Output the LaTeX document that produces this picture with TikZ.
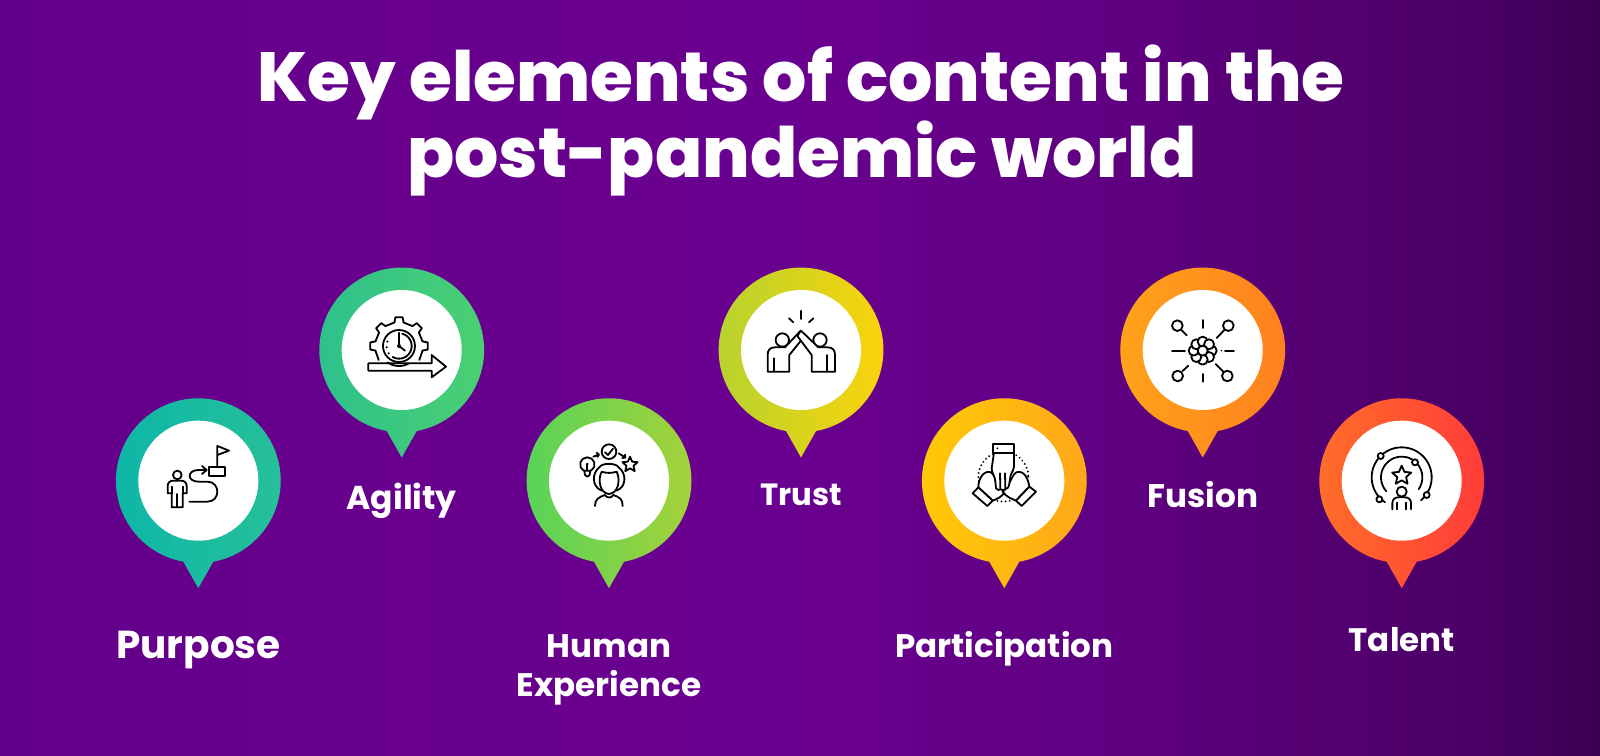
\documentclass[tikz,border=0pt]{standalone}
\usepackage{fontspec}
\setmainfont{Poppins}
\newfontfamily\titlefont{Poppins ExtraBold}
\definecolor{bgA}{HTML}{63008A}
\definecolor{bgB}{HTML}{67008D}
\definecolor{bgC}{HTML}{6A008F}
\definecolor{bgD}{HTML}{600082}
\definecolor{bgE}{HTML}{540072}
\definecolor{bgG}{HTML}{4A0066}
\definecolor{bgF}{HTML}{3A0052}
\definecolor{a1}{HTML}{0DB6A8}\definecolor{a2}{HTML}{27C098}
\definecolor{b1}{HTML}{2CC08E}\definecolor{b2}{HTML}{4CD070}
\definecolor{c1}{HTML}{55D35A}\definecolor{c2}{HTML}{A8D238}
\definecolor{d1}{HTML}{B5D32F}\definecolor{d2}{HTML}{FDD30A}
\definecolor{e1}{HTML}{FFCB05}\definecolor{e2}{HTML}{FFA61A}
\definecolor{f1}{HTML}{FFA41A}\definecolor{f2}{HTML}{FF7F1E}
\definecolor{g1}{HTML}{FF6F28}\definecolor{g2}{HTML}{FF3A3A}
\pgfdeclarehorizontalshading{bgshade}{100bp}{
  color(0bp)=(bgA); color(25bp)=(bgA); color(34.4bp)=(bgB); color(50bp)=(bgC);
  color(59.4bp)=(bgD); color(65.9bp)=(bgE); color(71.25bp)=(bgG); color(75bp)=(bgF); color(100bp)=(bgF)}
\tikzset{
  disc/.style={circle,fill=white,minimum size=120pt,inner sep=0pt},
  titletext/.style={text=white,font=\fontsize{69.5}{76}\titlefont\selectfont,anchor=base},
  lab/.style={text=white,anchor=base,font=\fontsize{#1}{#1}\selectfont\bfseries},
  ic/.style={draw=black,line width=1.8pt,line join=round,line cap=round},
  icw/.style={ic,fill=white},
  zoomA/.style={shift={(100,495)},x=0.33333pt,y=-0.33333pt},
  zoomB/.style={shift={(510,495)},x=0.33333pt,y=-0.33333pt},
  zoomC/.style={shift={(910,495)},x=0.33333pt,y=-0.33333pt},
  zoomD/.style={shift={(1300,375)},x=0.33333pt,y=-0.33333pt},
}
\newcommand{\pinmark}[5]{%
  \path[left color=#4,right color=#5,shift={(#2,#3)}] (0,-107.5) -- (-15,-81)
    arc[start angle=259.5,end angle=-79.5,radius=82.4] -- cycle;
  \node[disc] (#1) at (#2,#3) {};}
\newcommand{\starpoly}[4]{plot[samples at={0,...,9}] ({#1+(mod(\x,2)==0?#3:#4)*sin(36*\x)},{#2-(mod(\x,2)==0?#3:#4)*cos(36*\x)}) -- cycle}
\begin{document}
\begin{tikzpicture}[x=1pt,y=1pt]
\useasboundingbox (0,0) rectangle (1600,755);
\shade[shading=bgshade] (0,0) rectangle (1600,755);

\node[titletext] (t1) at (801,653) {Key elements of content in the};
\node[titletext] (t2) at (802,577) {post-pandemic world};

\pinmark{pPurpose}{198.3}{274.3}{a1}{a2}
\pinmark{pAgility}{401.7}{405}{b1}{b2}
\pinmark{pHuman}{609}{274.3}{c1}{c2}
\pinmark{pTrust}{801}{405}{d1}{d2}
\pinmark{pPart}{1004.3}{274.3}{e1}{e2}
\pinmark{pFusion}{1202.7}{405}{f1}{f2}
\pinmark{pTalent}{1401.7}{274.3}{g1}{g2}

\node[lab=39] (lPurpose) at (198.5,97) {Purpose};
\node[lab=33] (lAgility) at (401.7,245.5) {Agility};
\node[lab=32.6] (lHuman1) at (609,98) {Human};
\node[lab=32.6] (lHuman2) at (609,59) {Experience};
\node[lab=30.7] (lTrust) at (801,249) {Trust};
\node[lab=32.7] (lFusion) at (1202.7,247) {Fusion};
\node[lab=32.6] (lPart) at (1004.3,98) {Participation};
\node[lab=32.5] (lTalent) at (1401.7,103.5) {Talent};

% Purpose icon
\begin{scope}[zoomA]
  \draw[ic] (232,645) circle[radius=13];
  \draw[ic] (215,700) -- (203,700) -- (203,678) .. controls (203,668) and (210,662) .. (220,662) -- (243,662)
     .. controls (253,662) and (260,668) .. (260,678) -- (260,700) -- (248,700) -- (248,742) -- (215,742) -- cycle;
  \draw[ic] (232,702) -- (232,742) (215,680) -- (215,700) (248,680) -- (248,700);
  \draw[ic] (268,725) -- (322,725) .. controls (362,725) and (362,665) .. (322,665) -- (296,665)
     .. controls (260,665) and (260,630) .. (296,630) -- (318,630);
  \draw[ic] (306,618) -- (320,630) -- (306,642);
  \draw[ic] (328,620) rectangle (375,648);
  \draw[ic] (352,620) -- (352,558) -- (387,572) -- (352,585);
\end{scope}

% Agility icon
\begin{scope}[zoomA]
  \foreach \a in {-180,-135,-90,-45,0}
    \draw[ic,shift={(897,258)}] (\a-11:72) -- (\a-7:87) -- (\a+7:87) -- (\a+11:72);
  \foreach \a in {-180,-135,-90,-45}
    \draw[ic,shift={(897,258)}] (\a+11:72) -- (\a+34:72);
  \draw[ic] (897,258) ++(11:72) -- (958,300);
  \draw[ic] (897,258) ++(169:72) -- (836,300);
  \draw[ic] (897,258) circle[radius=48];
  \draw[ic,domain=-75:120,samples=30] plot ({897+38*cos(\x)},{258+38*sin(\x)});
  \draw[ic] (897,218) -- (897,258) -- (915,272);
  \fill (897,258) circle[radius=6];
  \fill (862,245) circle[radius=3.5] (860,262) circle[radius=3.5] (866,280) circle[radius=3.5];
  \draw[ic,domain=60:125,samples=15] plot ({897+60*cos(\x)},{258+60*sin(\x)});
  \draw[ic] (805,310) -- (995,310) -- (995,285) -- (1038,320) -- (995,352) -- (995,332) -- (805,332) -- cycle;
\end{scope}

% Human experience icon
\begin{scope}[zoomB]
  \draw[ic] (222,632) .. controls (200,618) and (212,592) .. (232,592) .. controls (252,592) and (264,618) .. (242,632) -- cycle;
  \draw[ic] (223,632) -- (225,645) .. controls (228,652) and (236,652) .. (239,645) -- (241,632);
  \draw[ic] (232,632) -- (232,612);
  \fill (232,612) circle[radius=4];
  \draw[ic] (250,590) -- (266,584) (260,578) -- (267,584) -- (262,591);
  \draw[ic] (297,575) circle[radius=22];
  \draw[ic] (285,577) -- (294,585) -- (309,566);
  \draw[ic] (326,580) -- (345,592) (337,594) -- (346,593) -- (345,584);
  \draw[ic] \starpoly{360}{614}{24}{11};
  \draw[icw] (275,692) .. controls (245,680) and (245,640) .. (268,622) .. controls (275,608) and (318,608) .. (326,622)
     .. controls (350,640) and (350,680) .. (320,692);
  \draw[ic] (275,635) .. controls (262,660) and (270,700) .. (297,702) .. controls (325,700) and (332,660) .. (320,635)
     .. controls (305,640) and (290,640) .. (275,635);
  \draw[ic] (255,738) .. controls (255,718) and (265,712) .. (285,705) .. controls (290,715) and (305,715) .. (310,705)
     .. controls (330,712) and (338,718) .. (338,738);
\end{scope}

% Trust icon
\begin{scope}[zoomB]
  \draw[ic] (873,152) -- (873,177) (837,175) -- (850,187) (910,175) -- (897,187);
  \draw[ic] (817,240) circle[radius=20];
  \draw[ic] (930,240) circle[radius=20];
  \draw[icw] (773,335) -- (773,285) .. controls (773,270) and (780,262) .. (795,262) -- (825,262) -- (872,212) -- (884,228) -- (838,285) -- (838,335) -- cycle;
  \draw[icw] (975,335) -- (975,285) .. controls (975,270) and (968,262) .. (952,262) -- (925,262) -- (873,212) -- (862,228) -- (905,285) -- (905,335) -- cycle;
  \draw[ic] (793,295) -- (793,335) (952,285) -- (952,335);
\end{scope}

% Participation icon
\begin{scope}[zoomC]
  \draw[ic,dash pattern=on 0.1pt off 4pt,line width=2pt] (280,650) circle[radius=75];
  \draw[icw] (205,682) .. controls (205,660) and (218,632) .. (240,636) .. controls (255,640) and (262,680) .. (285,695)
     .. controls (275,712) and (262,716) .. (248,722) -- cycle;
  \draw[icw] (358,680) .. controls (355,660) and (345,632) .. (322,636) .. controls (305,640) and (300,680) .. (278,695)
     .. controls (290,712) and (305,716) .. (318,722) -- cycle;
  \draw[icw] (188,700) -- (205,682) -- (248,722) -- (232,738) -- cycle;
  \draw[icw] (378,695) -- (358,680) -- (318,722) -- (335,738) -- cycle;
  \draw[icw] (252,578) -- (245,625) .. controls (245,640) and (256,650) .. (256,665) -- (258,685)
     .. controls (262,692) and (268,690) .. (272,688) .. controls (278,692) and (284,692) .. (287,686) .. controls (293,686) and (296,682) .. (297,676)
     -- (302,645) .. controls (306,635) and (312,630) .. (312,620) -- (312,578) -- cycle;
  \draw[icw] (250,552) rectangle (312,578);
  \draw[ic] (270,640) -- (271,686) (285,640) -- (286,684);
  \fill (262,565) circle[radius=3];
\end{scope}

% Fusion icon
\begin{scope}[zoomC]
  \draw[ic] (878,180) -- (878,204) (878,342) -- (878,365) (786,272) -- (825,272) (945,272) -- (972,272);
  \fill (934,272) circle[radius=2.5];
  \draw[ic] (802,197) circle[radius=16] (955,197) circle[radius=16] (803,348) circle[radius=16] (952,348) circle[radius=16];
  \draw[ic] (814,210) -- (830,226) (944,209) -- (920,234) (818,333) -- (835,317) (940,335) -- (917,312);
  \foreach \a in {0,45,...,315}
    \draw[icw] (878,272) ++(\a:27) circle[radius=15];
  \draw[icw] (878,272) circle[radius=15];
\end{scope}

% Talent icon
\begin{scope}[zoomD]
  \draw[ic,domain=124:410,samples=60] plot ({305+90*cos(\x)},{292+90*sin(\x)});
  \draw[ic,domain=138:395,samples=50] plot ({305+62*cos(\x)},{292+62*sin(\x)});
  \draw[icw] (242,228) circle[radius=9] (345,247) circle[radius=9] (238,358) circle[radius=9] (380,345) circle[radius=9];
  \draw[ic] \starpoly{305}{287}{30}{14};
  \draw[ic] (305,335) circle[radius=15];
  \draw[ic] (277,388) -- (277,370) .. controls (277,358) and (285,352) .. (295,352) -- (315,352) .. controls (325,352) and (333,358) .. (333,370) -- (333,388);
  \draw[ic] (291,368) -- (291,388) (319,368) -- (319,388);
\end{scope}
\end{tikzpicture}
\end{document}
